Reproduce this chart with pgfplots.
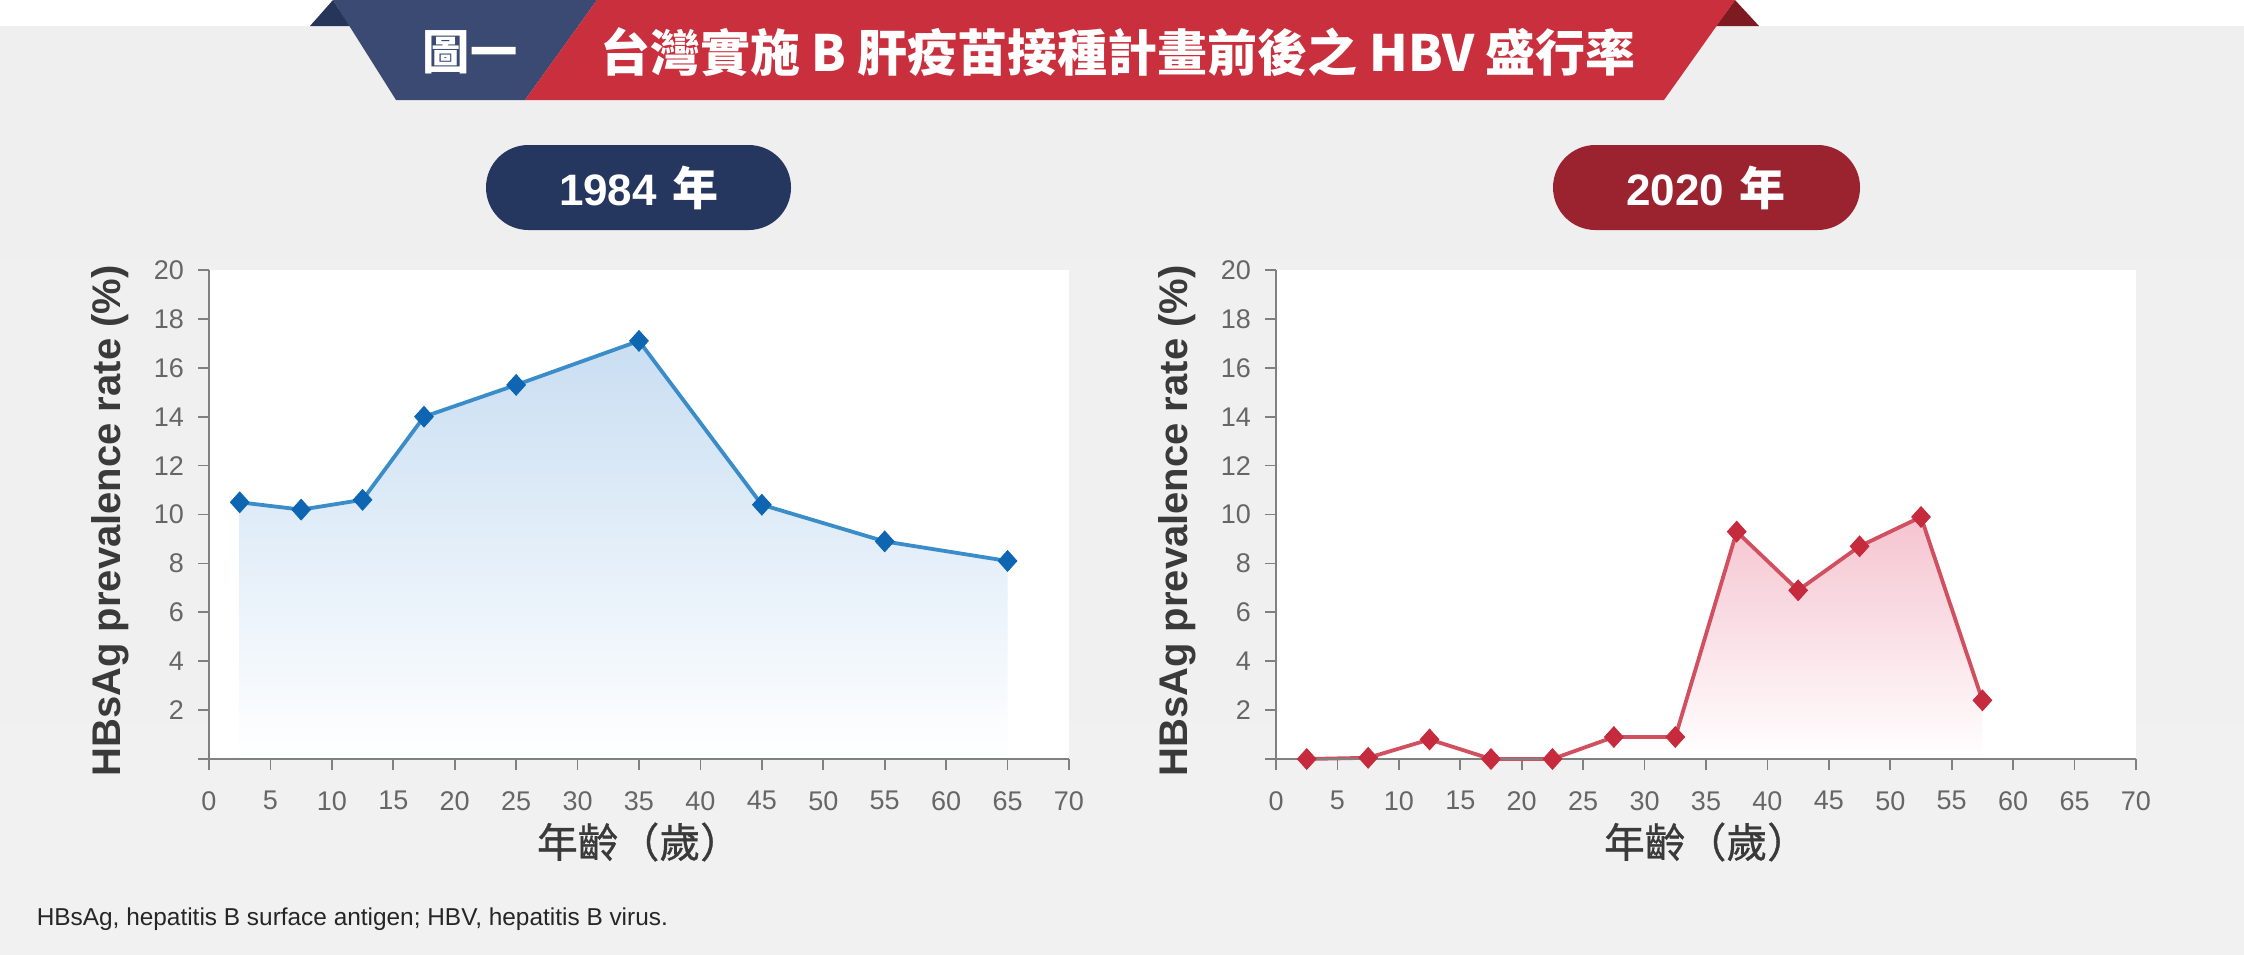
\documentclass[border=0pt]{standalone}
\usepackage{pgfplots}
\pgfplotsset{compat=1.18}
\usepackage{fontspec}
\setmainfont{Liberation Sans}
\newfontfamily\cjk{Noto Sans CJK TC}
\newfontfamily\cjkm[FakeBold=0.8]{Noto Sans CJK TC}
\definecolor{navy}{HTML}{3B4A72}
\definecolor{navydark}{HTML}{26355A}
\definecolor{titlered}{HTML}{C92F3C}
\definecolor{reddark}{HTML}{7E1A22}
\definecolor{pillnavy}{HTML}{25365F}
\definecolor{pillred}{HTML}{9B2330}
\definecolor{axisgray}{HTML}{808080}
\definecolor{ticklab}{HTML}{666666}
\definecolor{labgray}{HTML}{3A3A3A}
\definecolor{blueline}{HTML}{3A8DC8}
\definecolor{bluemark}{HTML}{0E66B2}
\definecolor{bluefill}{HTML}{C9DEF2}
\definecolor{redline}{HTML}{D0505F}
\definecolor{redmark}{HTML}{C62A3D}
\definecolor{redfill}{HTML}{F5C4D0}
\definecolor{bgtop}{HTML}{EFEFEF}
\definecolor{bgmid}{HTML}{F8F8F8}
\definecolor{bgbot}{HTML}{F1F1F1}

\pgfplotstableread{
x y
2.5 10.5
7.5 10.2
12.5 10.6
17.5 14.0
25 15.3
35 17.1
45 10.4
55 8.9
65 8.1
}\dataA
\pgfplotstableread{
x y
2.5 0.0
7.5 0.05
12.5 0.8
17.5 0.0
22.5 0.0
27.5 0.9
32.5 0.9
37.5 9.3
42.5 6.9
47.5 8.7
52.5 9.9
57.5 2.4
}\dataB

\pgfplotsset{
  hbvaxis/.style={
    at={#1}, anchor=south west,
    width=215pt, height=122.25pt, scale only axis,
    xmin=0, xmax=70, ymin=0, ymax=20,
    xtick={0,5,...,70},
    ytick={0,2,...,20},
    yticklabels={,2,4,6,8,10,12,14,16,18,20},
    xtick pos=bottom, ytick pos=left,
    tick align=outside, major tick length=2.75pt,
    tick style={draw=axisgray, line width=0.43pt},
    axis line style={draw=none},
    axis background/.style={fill=white},
    /pgf/number format/assume math mode=true,
    ticklabel style={font=\fontsize{6.75}{8}\selectfont, text=ticklab},
    xticklabel style={yshift=-1.8pt},
    ylabel={HBsAg prevalence rate (\%)},
    every axis y label/.style={at={(axis description cs:-0.1151,0.487)}, rotate=90, anchor=center,
      font=\bfseries\fontsize{10}{12}\selectfont, text=labgray},
    xlabel={\cjkm 年齡（歲）},
    every axis x label/.style={at={(axis description cs:0.5,-0.1697)}, anchor=center,
      font=\fontsize{10.2}{12}\selectfont, text=labgray},
    clip=false,
  }
}

\begin{document}
\begin{tikzpicture}
\begin{scope}[x=0.25pt,y=-0.25pt]
  \fill[white] (0,0) rectangle (2244,954);
  \shade[top color=bgtop, middle color=bgmid, bottom color=bgbot] (0,26) rectangle (2244,954);
  % banner
  \fill[navydark] (310,26) -- (333,0) -- (350,26) -- cycle;
  \fill[reddark] (1735,0) -- (1759,26) -- (1716,26) -- cycle;
  \fill[navy] (333,0) -- (597,0) -- (525,100) -- (396,100) -- cycle;
  \fill[titlered] (597,0) -- (1735,0) -- (1664,100) -- (525,100) -- cycle;
  \node[text=white, font=\cjk\bfseries\fontsize{11.8}{13}\selectfont] at (470,52) {圖一};
  \node[text=white, font=\cjk\bfseries\fontsize{12.5}{14}\selectfont] at (1118,52) {台灣實施 B 肝疫苗接種計畫前後之 HBV 盛行率};
  % pills
  \fill[pillnavy, rounded corners=10.6pt] (486,145) rectangle (791,230);
  \fill[pillred, rounded corners=10.6pt] (1553,145) rectangle (1860,230);
  \node[text=white, inner sep=0pt] at (639,188) {\bfseries\fontsize{11}{12}\selectfont 1984\hspace{4pt}{\cjk\bfseries\fontsize{11.5}{14}\selectfont 年}};
  \node[text=white, inner sep=0pt] at (1706,188) {\bfseries\fontsize{11}{12}\selectfont 2020\hspace{4pt}{\cjk\bfseries\fontsize{11.5}{14}\selectfont 年}};
  % footnote
  \node[anchor=west, inner sep=0pt, text=black!85, font=\fontsize{6.1}{7}\selectfont] at (36,919) {HBsAg, hepatitis B surface antigen; HBV, hepatitis B virus.};
  \coordinate (L) at (209,759);
  \coordinate (R) at (1276,759);
\end{scope}

\begin{axis}[hbvaxis={(L)}]
  \addplot[draw=none, top color=bluefill, bottom color=white] table[x=x,y=y] {\dataA} \closedcycle;
  \addplot[blueline, line width=0.95pt, mark=diamond*, mark size=2.6pt,
    mark options={draw=bluemark, fill=bluemark, line width=0.2pt, xscale=1.2}] table[x=x,y=y] {\dataA};
  \draw[axisgray, line width=0.43pt] (axis cs:0,0) -- (axis cs:70,0);
  \draw[axisgray, line width=0.43pt] (axis cs:0,0) -- (axis cs:0,20);
\end{axis}

\begin{axis}[hbvaxis={(R)}]
  \addplot[draw=none, top color=redfill, bottom color=white] table[x=x,y=y] {\dataB} \closedcycle;
  \addplot[redline, line width=0.95pt, mark=diamond*, mark size=2.6pt,
    mark options={draw=redmark, fill=redmark, line width=0.2pt, xscale=1.2}] table[x=x,y=y] {\dataB};
  \draw[axisgray, line width=0.43pt] (axis cs:0,0) -- (axis cs:70,0);
  \draw[axisgray, line width=0.43pt] (axis cs:0,0) -- (axis cs:0,20);
\end{axis}
\end{tikzpicture}
\end{document}
